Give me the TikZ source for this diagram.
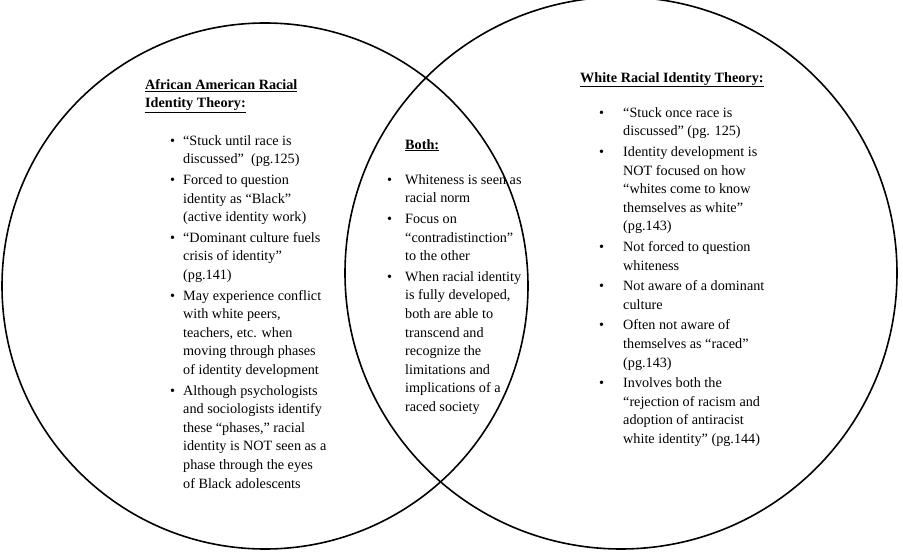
\documentclass[tikz,border=0pt]{standalone}
\usepackage{fontspec}
\setmainfont{Liberation Serif}
\newcommand{\lst}[2]{{\fontsize{14.2}{18.6}\selectfont\begin{tabular}{@{}p{#1}@{}l@{}}#2\end{tabular}}}
\newcommand{\bt}{\textbullet}
\begin{document}
\begin{tikzpicture}[x=1pt,y=-1pt,
  circ/.style={draw,line width=1.6pt},
  txt/.style={anchor=north west,inner sep=0pt,align=left,font=\fontsize{14.2}{18.6}\selectfont}]
\useasboundingbox (0,0) rectangle (903,553);
\draw[circ] (265,286) circle[radius=263];
\draw[circ] (621,273) circle[radius=276];
\node[txt] (lt) at (145,79) {\textbf{\underline{African American Racial}}\\\textbf{\underline{Identity Theory:}}};
\node[txt] (ll) at (170,132) {\lst{13pt}{
\bt & ``Stuck until race is\\ & discussed''\ \ (pg.125)\\[2pt]
\bt & Forced to question\\ & identity as ``Black''\\ & (active identity work)\\[2pt]
\bt & ``Dominant culture fuels\\ & crisis of identity''\\ & (pg.141)\\[2pt]
\bt & May experience conflict\\ & with white peers,\\ & teachers, etc. when\\ & moving through phases\\ & of identity development\\[2pt]
\bt & Although psychologists\\ & and sociologists identify\\ & these ``phases,'' racial\\ & identity is NOT seen as a\\ & phase through the eyes\\ & of Black adolescents}};
\node[txt] (mt) at (405,139) {\textbf{\underline{Both:}}};
\node[txt] (ml) at (387,171) {\lst{18pt}{
\bt & Whiteness is seen as\\ & racial norm\\[2pt]
\bt & Focus on\\ & ``contradistinction''\\ & to the other\\[2pt]
\bt & When racial identity\\ & is fully developed,\\ & both are able to\\ & transcend and\\ & recognize the\\ & limitations and\\ & implications of a\\ & raced society}};
\node[txt] (rt) at (580,72) {\textbf{\underline{White Racial Identity Theory:}}};
\node[txt] (rl) at (599,104) {\lst{24pt}{
\bt & ``Stuck once race is\\ & discussed''\ (pg. 125)\\[2pt]
\bt & Identity development is\\ & NOT focused on how\\ & ``whites come to know\\ & themselves as white''\\ & (pg.143)\\[2pt]
\bt & Not forced to question\\ & whiteness\\[2pt]
\bt & Not aware of a dominant\\ & culture\\[2pt]
\bt & Often not aware of\\ & themselves as ``raced''\\ & (pg.143)\\[2pt]
\bt & Involves both the\\ & ``rejection of racism and\\ & adoption of antiracist\\ & white identity''\ (pg.144)}};
\end{tikzpicture}
\end{document}
